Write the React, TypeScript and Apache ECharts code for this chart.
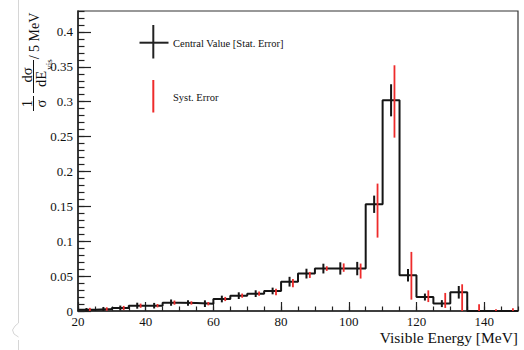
import React, { useEffect, useRef } from "react";
import * as echarts from "echarts";

// ---- data ----
const binLow = [20, 25, 30, 35, 40, 45, 50, 55, 60, 65, 70, 75, 80, 85, 90, 95, 100, 105, 110, 115, 120, 125, 130, 135, 140, 145];
const binWidth = 5;
const values = [0.0019, 0.0029, 0.0043, 0.0076, 0.0076, 0.012, 0.0115, 0.0105, 0.0172, 0.022, 0.0249, 0.0287, 0.042, 0.0536, 0.0608, 0.061, 0.0608, 0.153, 0.302, 0.0512, 0.02, 0.0106, 0.0268, 0, 0, 0];
const statErr = [0.0024, 0.0029, 0.0035, 0.0043, 0.004, 0.0045, 0.004, 0.0048, 0.0048, 0.0048, 0.0048, 0.0048, 0.007, 0.007, 0.007, 0.0088, 0.0096, 0.0124, 0.023, 0.009, 0.005, 0.005, 0.009, 0, 0, 0];
const systUp = [0.0026, 0.0024, 0.003, 0.003, 0.0024, 0.003, 0.0024, 0.0024, 0.003, 0.003, 0.003, 0.0033, 0.0038, 0.0024, 0.0033, 0.0072, 0.0072, 0.0296, 0.0502, 0.0335, 0.0096, 0.0153, 0.0115, 0.0096, 0.0024, 0.0038];
const systDown = [0.0019, 0.0024, 0.003, 0.003, 0.0024, 0.003, 0.0024, 0.0024, 0.003, 0.003, 0.003, 0.0062, 0.0081, 0.0062, 0.0033, 0.0048, 0.0143, 0.0478, 0.0535, 0.0349, 0.0072, 0.0062, 0.0268, 0, 0, 0];
const systShift = 1; // syst. bars drawn 1 MeV right of bin centre
const xRange = [20, 150];
const yRange = [0, 0.43];
const xMajor = 20;
const xMinor = 5;
const yMajor = 0.05;
const yMinor = 0.01;

const FONT = "'Liberation Serif', 'DejaVu Serif', 'Times New Roman', serif";
const BLACK = "#151515";
const RED = "#ee2b2b";

export default function App() {
  const ref = useRef<HTMLDivElement>(null);

  useEffect(() => {
    const chart = echarts.init(ref.current!, null, { renderer: "svg" });

    const stepData: number[][] = binLow.map((x, i) => [x, values[i]]);
    stepData.push([binLow[binLow.length - 1] + binWidth, values[values.length - 1]]);

    const statData = binLow
      .map((x, i) => [x + binWidth / 2, values[i] - statErr[i], values[i] + statErr[i]])
      .filter((_, i) => statErr[i] > 0);
    const systData = binLow.map((x, i) => [
      x + binWidth / 2 + systShift,
      Math.max(0, values[i] - systDown[i]),
      values[i] + systUp[i],
    ]);

    const barRenderer = (color: string, width: number) => (params: any, api: any) => {
      const x = api.value(0);
      const p1 = api.coord([x, api.value(1)]);
      const p2 = api.coord([x, api.value(2)]);
      return {
        type: "line",
        shape: { x1: p1[0], y1: p1[1], x2: p2[0], y2: p2[1] },
        style: { stroke: color, lineWidth: width },
      };
    };

    const tickStyle = { color: "#222", width: 1.2 };
    const labelStyle = { color: "#111", fontSize: 13, fontFamily: FONT };

    const rot = Math.PI / 2;
    const ytxt = (text: string, x: number, y: number, size: number) => ({
      type: "text",
      x,
      y,
      rotation: rot,
      style: { text, fill: "#111", font: `${size}px ${FONT}`, textAlign: "center", textVerticalAlign: "middle", align: "center", verticalAlign: "middle" },
      silent: true,
    });

    const option: any = {
      animation: false,
      backgroundColor: "#ffffff",
      grid: { left: 78, right: 6, top: 11, bottom: 39, show: true, borderColor: "#333", borderWidth: 1.2, backgroundColor: "transparent" },
      xAxis: [
        {
          type: "value", min: xRange[0], max: xRange[1], interval: xMajor, position: "bottom",
          axisLine: { show: true, lineStyle: { color: "#222", width: 1.5 } },
          axisTick: { show: true, inside: true, length: 9, lineStyle: tickStyle },
          axisLabel: { ...labelStyle, margin: 4, showMaxLabel: false },
          splitLine: { show: false },
        },
        {
          type: "value", min: xRange[0], max: xRange[1], interval: xMinor, position: "bottom", offset: 0,
          axisLine: { show: false },
          axisTick: { show: true, inside: true, length: 4.5, lineStyle: tickStyle },
          axisLabel: { show: false },
          splitLine: { show: false },
        },
      ],
      yAxis: [
        {
          type: "value", min: yRange[0], max: yRange[1], interval: yMajor, position: "left",
          axisLine: { show: true, lineStyle: { color: "#222", width: 1.5 } },
          axisTick: { show: true, inside: true, length: 13, lineStyle: tickStyle },
          axisLabel: { ...labelStyle, margin: 5, showMaxLabel: false, formatter: (v: number) => String(+v.toFixed(2)) },
          splitLine: { show: false },
        },
        {
          type: "value", min: yRange[0], max: yRange[1], interval: yMinor, position: "left", offset: 0,
          axisLine: { show: false },
          axisTick: { show: true, inside: true, length: 6.5, lineStyle: tickStyle },
          axisLabel: { show: false },
          splitLine: { show: false },
        },
      ],
      series: [
        {
          type: "line", step: "end", data: stepData, symbol: "none", showSymbol: false,
          xAxisIndex: 0, yAxisIndex: 0, lineStyle: { color: BLACK, width: 2 }, z: 3, silent: true,
        },
        {
          type: "custom", data: statData, xAxisIndex: 0, yAxisIndex: 0, encode: { x: 0, y: [1, 2] },
          renderItem: barRenderer(BLACK, 2), z: 4, silent: true,
        },
        {
          type: "custom", data: systData, xAxisIndex: 0, yAxisIndex: 0, encode: { x: 0, y: [1, 2] },
          renderItem: barRenderer(RED, 1.8), z: 5, silent: true,
        },
      ],
      graphic: [
        // page edge artifact
        { type: "line", shape: { x1: 18.5, y1: 0, x2: 18.5, y2: 323 }, style: { stroke: "#d6d6d6", lineWidth: 1 }, silent: true },
        { type: "polyline", shape: { points: [[18.5, 323], [15, 326], [12.5, 330], [14, 334], [18.5, 337]] }, style: { stroke: "#d6d6d6", lineWidth: 1, fill: "none" }, silent: true },
        { type: "line", shape: { x1: 18.5, y1: 340, x2: 18.5, y2: 350 }, style: { stroke: "#d6d6d6", lineWidth: 1 }, silent: true },
        // legend
        { type: "line", shape: { x1: 139.5, y1: 42.7, x2: 168.5, y2: 42.7 }, style: { stroke: "#222", lineWidth: 2 }, silent: true },
        { type: "line", shape: { x1: 153.3, y1: 25, x2: 153.3, y2: 58.5 }, style: { stroke: "#222", lineWidth: 2 }, silent: true },
        { type: "text", x: 173, y: 43, style: { text: "Central Value [Stat. Error]", fill: "#111", font: `10.5px ${FONT}`, verticalAlign: "middle", textVerticalAlign: "middle" }, silent: true },
        { type: "line", shape: { x1: 153.3, y1: 80, x2: 153.3, y2: 112.5 }, style: { stroke: RED, lineWidth: 2 }, silent: true },
        { type: "text", x: 173, y: 97, style: { text: "Syst. Error", fill: "#111", font: `10.5px ${FONT}`, verticalAlign: "middle", textVerticalAlign: "middle" }, silent: true },
        // x-axis title
        { type: "text", x: 518, y: 337, style: { text: "Visible Energy [MeV]", fill: "#111", font: `15.5px ${FONT}`, align: "right", textAlign: "right", verticalAlign: "middle", textVerticalAlign: "middle" }, silent: true },
        // y-axis title: 1/σ dσ/dE_vis / 5 MeV
        ytxt("1", 26.5, 103.5, 14.5),
        { type: "line", shape: { x1: 33.5, y1: 96, x2: 33.5, y2: 111 }, style: { stroke: "#111", lineWidth: 1 }, silent: true },
        ytxt("σ", 40.5, 103.5, 14.5),
        ytxt("dσ", 27, 75, 14.5),
        { type: "line", shape: { x1: 33.5, y1: 60, x2: 33.5, y2: 93 }, style: { stroke: "#111", lineWidth: 1 }, silent: true },
        ytxt("dE", 41, 79, 14.5),
        ytxt("vis", 48.5, 64.5, 9),
        ytxt("/ 5 MeV", 34.5, 36, 14),
      ],
    };

    chart.setOption(option);
    return () => chart.dispose();
  }, []);

  return <div ref={ref} style={{ position: "fixed", left: 0, top: 0, width: 524, height: 350, background: "#fff" }} />;
}
